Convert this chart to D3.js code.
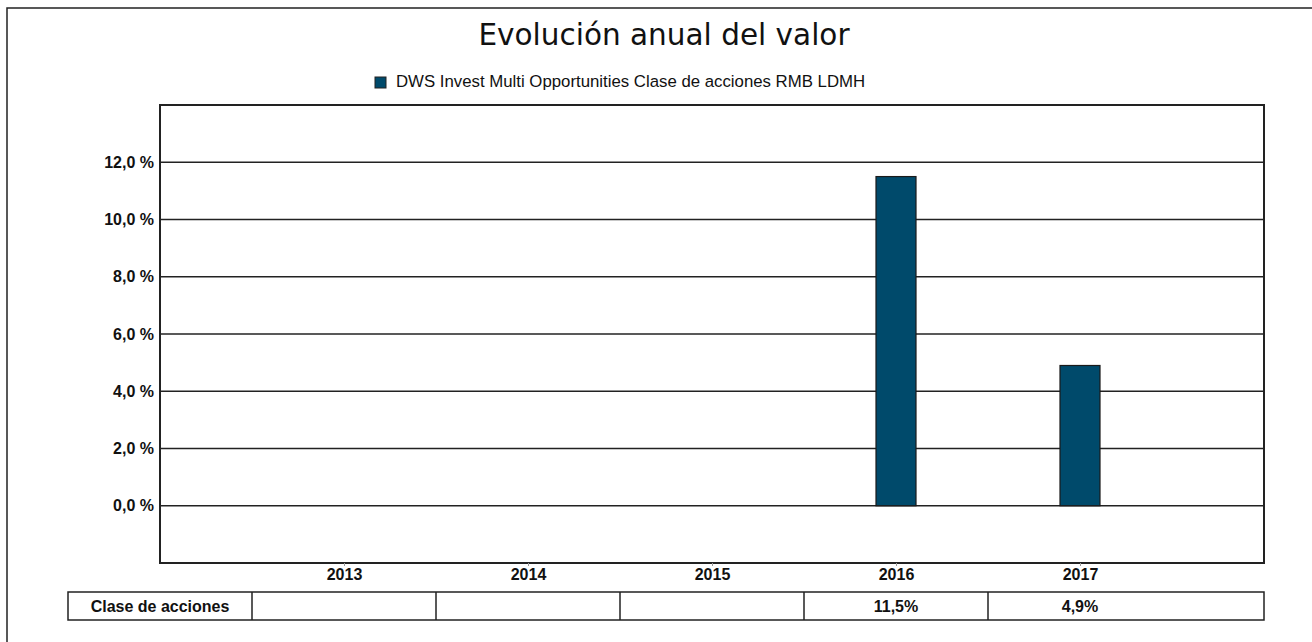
<!DOCTYPE html>
<html><head><meta charset="utf-8">
<script src="https://cdn.jsdelivr.net/npm/d3@7/dist/d3.min.js"></script>
<style>body{margin:0;background:#fff}svg{display:block}</style>
</head><body>
<svg id="c" width="1312" height="642"></svg>
<script>
const title = "Evolución anual del valor";
const seriesName = "DWS Invest Multi Opportunities Clase de acciones RMB LDMH";
const years = ["2013","2014","2015","2016","2017"];
const values = [null,null,null,11.5,4.9];
const tableLabels = ["","","","11,5%","4,9%"];
const rowLabel = "Clase de acciones";
const yTicks = [0,2,4,6,8,10,12];

const svg = d3.select("#c");
const L=160, R=1264, T=105, B=563;
const color = "#004a6b";
const FS = 16;

svg.append("rect").attr("x",7).attr("y",8).attr("width",1400).attr("height",700)
  .attr("fill","none").attr("stroke","#222").attr("stroke-width",1.5);

const x = d3.scalePoint().domain(["_s",...years,"_e"]).range([L,R]);
const step = x.step();
const y = d3.scaleLinear().domain([-2,14]).range([B,T]);

svg.append("text").attr("x",664).attr("y",45).attr("text-anchor","middle")
  .attr("font-family","DejaVu Sans").attr("font-size",29.5).attr("fill","#111").text(title);

svg.append("rect").attr("x",375).attr("y",77).attr("width",11).attr("height",11)
  .attr("fill",color).attr("stroke","#222").attr("stroke-width",1);
svg.append("text").attr("x",396).attr("y",87)
  .attr("font-family","Liberation Sans, Arial").attr("font-size",16.8).attr("fill","#111").text(seriesName);

// grid
const g = svg.append("g");
g.selectAll("line.grid").data(yTicks).join("line")
  .attr("x1",L).attr("x2",R).attr("y1",d=>y(d)).attr("y2",d=>y(d))
  .attr("stroke","#222").attr("stroke-width",1.5);

// y axis labels
const yAxis = d3.axisLeft(y).tickValues(yTicks).tickSize(0).tickPadding(6)
  .tickFormat(d=>d3.format(".1f")(d).replace(".",",")+" %");
const ya = svg.append("g").attr("transform",`translate(${L},0)`).call(yAxis);
ya.select(".domain").remove();
ya.selectAll("text").attr("font-family","Liberation Sans, Arial").attr("font-size",FS)
  .attr("font-weight","bold").attr("fill","#111");

// bars
const bw = 40;
svg.append("g").selectAll("rect").data(years.map((yr,i)=>({yr,v:values[i]})).filter(d=>d.v!=null))
  .join("rect")
  .attr("x",d=>x(d.yr)-bw/2).attr("width",bw)
  .attr("y",d=>y(Math.max(0,d.v))).attr("height",d=>Math.abs(y(d.v)-y(0)))
  .attr("fill",color).attr("stroke","#1a1a1a").attr("stroke-width",1.2);

// plot frame
svg.append("rect").attr("x",L).attr("y",T).attr("width",R-L).attr("height",B-T)
  .attr("fill","none").attr("stroke","#222").attr("stroke-width",2);

// x axis
const xAxis = d3.axisBottom(x).tickValues(years).tickSize(3).tickPadding(3);
const xa = svg.append("g").attr("transform",`translate(0,${B})`).call(xAxis);
xa.select(".domain").remove();
xa.selectAll("line").attr("stroke","#999");
xa.selectAll("text").attr("font-family","Liberation Sans, Arial").attr("font-size",FS)
  .attr("font-weight","bold").attr("fill","#111");

// table
const tT=592, tB=620, tL=68;
const tg = svg.append("g");
tg.append("rect").attr("x",tL).attr("y",tT).attr("width",R-tL).attr("height",tB-tT)
  .attr("fill","none").attr("stroke","#222").attr("stroke-width",1.5);
const bounds = years.map(yr=>x(yr)-step/2);
tg.selectAll("line.sep").data(bounds).join("line")
  .attr("x1",d=>d).attr("x2",d=>d).attr("y1",tT).attr("y2",tB)
  .attr("stroke","#222").attr("stroke-width",1.5);
tg.append("text").attr("x",(tL+bounds[0])/2).attr("y",612).attr("text-anchor","middle")
  .attr("font-family","Liberation Sans, Arial").attr("font-size",FS).attr("font-weight","bold")
  .attr("fill","#111").text(rowLabel);
tg.selectAll("text.v").data(years.map((yr,i)=>({yr,t:tableLabels[i]}))).join("text")
  .attr("x",d=>x(d.yr)).attr("y",612).attr("text-anchor","middle")
  .attr("font-family","Liberation Sans, Arial").attr("font-size",FS).attr("font-weight","bold")
  .attr("fill","#111").text(d=>d.t);
</script>
</body></html>
